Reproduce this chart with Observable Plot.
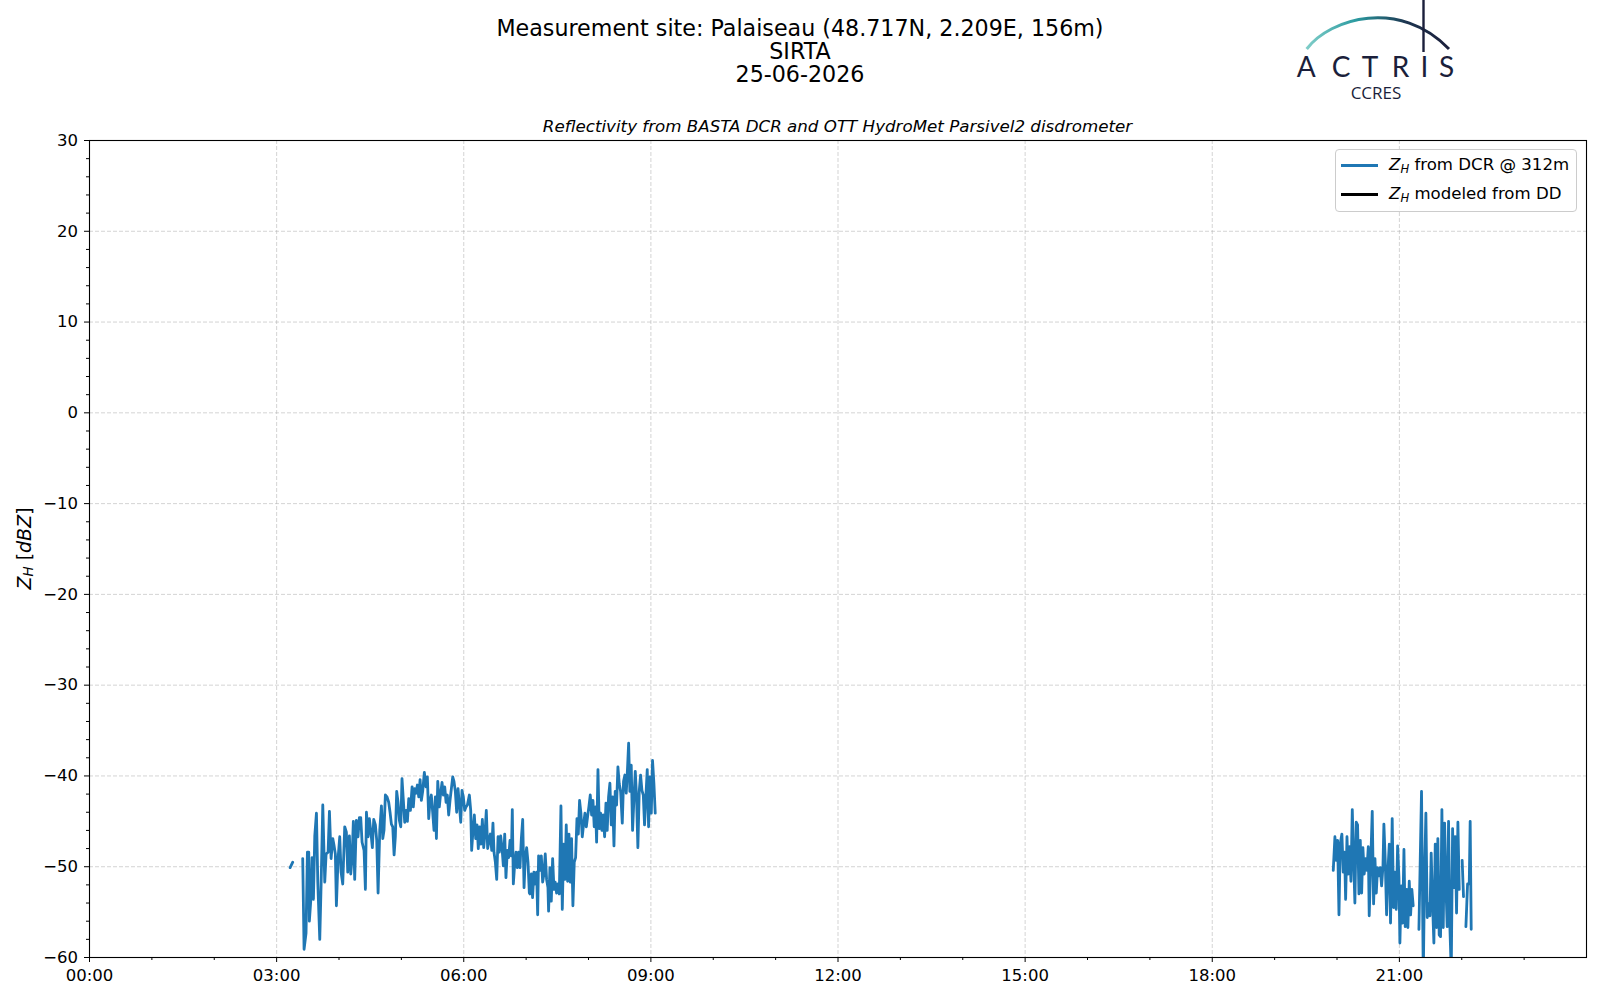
<!DOCTYPE html>
<html>
<head>
<meta charset="utf-8">
<script src="https://cdn.jsdelivr.net/npm/d3@7"></script>
<script src="https://cdn.jsdelivr.net/npm/@observablehq/plot@0.6"></script>
<style>
  body { margin: 0; background: #fff; font-family: "DejaVu Sans", sans-serif; }
  #fig { position: relative; width: 1600px; height: 1000px; overflow: hidden; background: #fff; }
  #header { position: relative; width: 1600px; height: 132px; }
  #title { position: absolute; left: 0; top: 17px; width: 1600px; text-align: center; font-size: 22.2px; line-height: 23px; color: #000; }
  #subtitle { position: absolute; left: 89px; width: 1497px; top: 116px; text-align: center; font-size: 16.7px; line-height: 20px; font-style: italic; color: #000; }
  #logo { position: absolute; left: 1280px; top: 0; }
  #legend { position: absolute; left: 1335px; top: 149px; width: 242px; height: 63px; border: 1px solid #cccccc; border-radius: 4px; background: rgba(255,255,255,0.85); box-sizing: border-box; }
  .lrow { position: absolute; left: 0; height: 20px; font-size: 16.6px; line-height: 20px; color: #000; white-space: nowrap; }
  .lline { position: absolute; left: 5px; width: 37px; height: 2.8px; }
  .ltext { position: absolute; left: 53px; top: 0; }
  sub { font-size: 0.7em; vertical-align: -0.25em; line-height: 0; }
</style>
</head>
<body>
<div id="fig">
  <div id="header">
    <div id="title">Measurement site: Palaiseau (48.717N, 2.209E, 156m)<br>SIRTA<br>25-06-2026</div>
    <svg id="logo" width="200" height="110">
      <defs>
        <linearGradient id="arcg" x1="0" x2="1" y1="0" y2="0">
          <stop offset="0" stop-color="#7fcdc8"/>
          <stop offset="0.35" stop-color="#2b9aa0"/>
          <stop offset="0.7" stop-color="#1d3550"/>
          <stop offset="1" stop-color="#1b1f3b"/>
        </linearGradient>
      </defs>
      <path d="M26.7,49 C50,18 120,-2 169,49" fill="none" stroke="url(#arcg)" stroke-width="3"/>
      <line x1="143.5" y1="0" x2="143.5" y2="52" stroke="#1b1f3b" stroke-width="2.4"/>
      <text x="16.7 51.7 81.7 111.7 140.5 159" y="77.3" font-family="Lato, 'Open Sans', sans-serif" font-size="28" fill="#1b1f3b">ACTRIS</text>
      <text x="96" y="98.8" text-anchor="middle" font-family="'Open Sans', Lato, sans-serif" font-size="17" fill="#1b1f3b">CCRES</text>
    </svg>
    <div id="subtitle">Reflectivity from BASTA DCR and OTT HydroMet Parsivel2 disdrometer</div>
  </div>
  <div id="chart"></div>
  <div id="legend">
    <div class="lrow" style="top:5px"><div class="lline" style="top:9px;background:#1f77b4"></div><div class="ltext"><i>Z</i><sub><i>H</i></sub> from DCR @ 312m</div></div>
    <div class="lrow" style="top:34px"><div class="lline" style="top:9px;background:#000"></div><div class="ltext"><i>Z</i><sub><i>H</i></sub> modeled from DD</div></div>
  </div>
</div>
<script>
// ---- data (time in minutes since 00:00 UTC, reflectivity in dBZ; null = gap) ----
const timeMin = [
  193.0, 195.5, 200.0,
  205.1, 206.4, 208.3, 209.6, 210.9, 211.5, 212.8, 214.1, 215.4, 216.7, 218.3, 219.6, 221.5, 222.8, 224.4, 226.3,
  227.6, 229.5, 230.8, 232.4, 234.0, 235.3, 236.5, 237.5, 239.1, 240.7, 242.0, 243.6, 245.5, 247.1, 248.4, 250.0,
  251.3, 252.6, 253.8, 255.1, 256.7, 258.3, 259.6, 260.9, 262.2, 264.1, 265.4, 266.4, 268.0, 269.2, 270.5, 272.1,
  273.4, 275.0, 276.3, 277.6, 279.2, 280.8, 282.1, 283.3, 284.6, 286.2, 287.8, 289.1, 290.4, 291.7, 293.0, 294.2,
  295.5, 296.8, 298.1, 299.4, 300.6, 301.9, 303.2, 304.5, 305.8, 307.1, 308.7,
  310.3, 311.5, 312.8, 314.1, 315.4, 316.7, 318.0, 319.2, 320.5, 322.1, 323.7, 325.0, 326.3, 327.6, 328.8, 330.1,
  331.4, 332.7, 333.7, 335.0, 336.5, 337.8, 339.1, 340.4, 341.7, 343.0, 344.2, 345.5, 346.8, 348.1, 349.4, 350.6,
  351.9, 353.2, 354.5, 355.8, 357.1, 358.3, 359.6, 360.9, 362.2, 363.5, 365.4, 366.7, 367.6, 368.9, 370.2, 371.5,
  372.8, 374.0, 375.3, 376.6, 377.9, 379.2, 380.5, 381.7, 383.0, 384.3, 385.6, 386.9, 388.1, 389.1, 390.4, 391.7,
  393.0, 394.2, 395.5, 396.8, 398.1, 399.4, 400.6, 401.9, 403.2, 404.5, 405.8, 406.7, 407.7, 409.0, 410.3, 411.5,
  412.8, 414.1, 415.4, 416.7, 418.0, 419.2, 420.5, 421.8, 423.1,
  423.7, 425.0, 426.2, 427.5, 428.8, 430.1, 431.1, 432.0, 433.3, 434.6, 435.9, 437.1, 438.4, 439.7, 441.0, 441.6,
  442.9, 444.2, 445.5, 446.8, 448.0, 449.3, 450.6, 451.9, 453.5, 454.8, 456.1, 457.3, 458.6, 459.9, 461.2, 462.5,
  463.7, 465.0, 466.3, 467.6, 468.9, 470.2, 471.4, 472.7, 474.0, 475.3, 476.6, 477.9, 479.1, 480.4, 481.7, 483.0,
  484.3, 485.5, 486.8, 487.8, 489.1, 490.4, 491.6, 492.9, 494.2, 495.5, 496.8, 498.0, 499.3, 500.6, 501.9, 503.2,
  504.5, 505.7, 507.0, 508.3, 509.6, 510.9, 512.5, 513.7, 515.0, 516.3, 517.6, 518.6, 519.8, 521.1, 522.4, 523.7,
  525.0, 526.2, 527.5, 528.8, 530.1, 531.4, 532.7, 533.9, 535.2, 536.5, 537.8, 539.1, 540.4, 541.6, 542.9, 544.2,
  600.0,
  1196.4, 1198.0, 1199.3, 1200.6, 1201.9, 1203.1, 1204.7, 1206.0, 1207.3, 1208.3, 1209.6, 1210.8, 1212.1, 1213.4,
  1214.7, 1216.0, 1217.2, 1218.5, 1219.8, 1221.1, 1222.4, 1223.7, 1224.9, 1226.2, 1227.5, 1228.8, 1230.1, 1231.0,
  1232.3, 1233.9, 1235.2, 1236.5, 1237.8, 1239.0, 1240.3, 1241.6, 1242.9, 1244.2, 1245.1, 1246.4, 1247.7, 1249.0,
  1250.3, 1251.5, 1253.1, 1254.4, 1255.7, 1257.0, 1258.3, 1259.6, 1260.5, 1261.8, 1263.1, 1264.4, 1265.6, 1266.9,
  1268.2, 1269.5, 1270.8, 1272.0, 1273.3, 1276.0,
  1278.8, 1281.3, 1283.0, 1284.2, 1285.5, 1286.8, 1288.1, 1289.4, 1290.6, 1291.9, 1293.2, 1294.5, 1295.8, 1297.0,
  1298.3, 1299.6, 1300.9, 1302.2, 1303.5, 1304.7, 1306.0, 1307.3, 1308.6, 1309.9, 1311.2, 1312.4, 1313.7, 1315.0,
  1316.3, 1317.6, 1319.0,
  1320.4, 1321.7, 1322.8,
  1324.0, 1325.6, 1327.2, 1328.1, 1329.1
];
const zhDcr = [
  -50.1, -49.5, null,
  -49.1, -59.1, -57.3, -48.4, -48.4, -56.0, -53.8, -49.0, -53.6, -46.6, -44.1, -51.7, -58.0, -51.9, -43.2, -51.7,
  -48.6, -48.4, -43.9, -49.1, -46.9, -47.7, -48.6, -54.3, -49.1, -46.7, -50.6, -51.9, -45.6, -46.2, -50.6, -46.6,
  -50.8, -49.0, -45.0, -51.4, -44.9, -46.7, -44.6, -44.6, -47.3, -48.2, -52.5, -44.0, -46.7, -44.7, -46.0, -47.9,
  -44.8, -45.4, -47.1, -52.9, -46.0, -43.3, -46.9, -46.0, -42.1, -42.3, -42.9, -44.0, -45.3, -45.6, -48.7, -46.7,
  -41.7, -42.9, -44.9, -45.6, -40.3, -42.7, -45.1, -43.8, -45.0, -42.5, -43.8,
  -41.2, -43.4, -41.4, -41.9, -41.0, -42.3, -40.4, -42.7, -41.7, -39.6, -41.2, -40.1, -44.7, -42.7, -42.1, -44.0,
  -46.0, -42.3, -46.9, -40.6, -43.4, -41.9, -40.7, -42.1, -41.2, -42.9, -42.1, -44.3, -42.7, -41.4, -40.1, -40.6,
  -41.7, -44.0, -41.4, -43.2, -45.1, -41.6, -42.3, -43.8, -43.4, -43.2, -42.1, -43.8, -48.2, -46.0, -44.3, -46.9,
  -45.4, -48.0, -45.6, -47.5, -44.8, -47.9, -46.2, -43.8, -48.0, -47.1, -46.4, -48.2, -45.2, -48.4, -49.5, -51.4,
  -46.7, -48.4, -46.6, -47.9, -49.9, -46.4, -51.2, -48.2, -49.0, -47.1, -48.8, -43.7, -51.9, -49.7, -48.4, -50.1,
  -48.4, -50.1, -46.9, -44.8, -52.3, -49.0, -47.9, -49.5, -52.9,
  -53.0, -50.8, -53.4, -50.6, -51.9, -50.6, -55.3, -48.8, -50.4, -48.8, -51.7, -50.8, -48.6, -51.4, -52.3, -54.9,
  -50.1, -53.8, -49.1, -52.5, -51.7, -52.9, -51.9, -53.0, -43.3, -54.7, -47.5, -51.4, -45.4, -51.6, -46.4, -51.7,
  -46.9, -54.3, -49.5, -49.0, -44.7, -46.4, -42.7, -44.1, -46.7, -45.3, -44.1, -45.6, -44.5, -43.4, -42.1, -44.3,
  -42.7, -45.6, -43.4, -47.3, -39.3, -45.8, -44.1, -46.0, -44.3, -46.7, -43.0, -46.0, -42.3, -40.8, -45.4, -42.3,
  -47.7, -41.7, -43.2, -39.0, -40.9, -41.7, -45.2, -40.6, -39.9, -41.9, -39.0, -36.4, -41.7, -38.8, -46.0, -42.5,
  -39.5, -42.3, -47.9, -41.7, -39.9, -41.6, -42.1, -45.4, -42.3, -39.3, -45.6, -40.1, -44.1, -38.3, -40.8, -44.1,
  null,
  -50.4, -46.7, -49.3, -47.1, -55.3, -47.5, -46.4, -50.6, -48.4, -53.6, -46.7, -50.8, -47.8, -51.6,
  -43.7, -49.3, -54.0, -45.1, -45.4, -53.0, -47.1, -52.9, -47.9, -50.8, -49.1, -50.4, -47.8, -55.4,
  -50.1, -43.9, -54.1, -49.1, -52.9, -50.1, -51.0, -50.1, -52.1, -50.0, -45.3, -49.3, -55.3, -50.4,
  -47.5, -56.2, -44.7, -54.5, -50.6, -54.7, -47.7, -51.2, -58.4, -52.1, -56.2, -48.1, -56.6, -52.5,
  -56.7, -51.6, -55.3, -52.5, -54.3, null,
  -56.9, -41.7, -62.0, -51.1, -44.1, -55.6, -54.1, -55.4, -48.5, -54.0, -58.4, -47.5, -56.7, -46.9,
  -57.5, -57.7, -43.7, -56.7, -45.2, -51.9, -56.6, -45.0, -56.7, -61.5, -45.8, -52.3, -46.7, -55.1,
  -45.1, -52.5, null,
  -49.3, -53.3, null,
  -56.6, -51.9, -51.9, -45.0, -56.9
];
const xMajorTicks = [0, 180, 360, 540, 720, 900, 1080, 1260];
const xTickLabels = ["00:00", "03:00", "06:00", "09:00", "12:00", "15:00", "18:00", "21:00"];
const xMinorTicks = [60, 120, 240, 300, 420, 480, 600, 660, 780, 840, 960, 1020, 1140, 1200, 1320, 1380];
const yMajorTicks = [-60, -50, -40, -30, -20, -10, 0, 10, 20, 30];
const yMinorTicks = [-58, -56, -54, -52, -48, -46, -44, -42, -38, -36, -34, -32, -28, -26, -24, -22, -18, -16, -14, -12,
  -8, -6, -4, -2, 2, 4, 6, 8, 12, 14, 16, 18, 22, 24, 26, 28];

const rows = timeMin.map((t, i) => ({t, v: zhDcr[i]}));
const xLabel = new Map(xMajorTicks.map((t, i) => [t, xTickLabels[i]]));
const fmtY = d => (d < 0 ? "\u2212" + Math.abs(d) : String(d));

const W = 1600, H = 868;
const mTop = 8, mBottom = 43, mLeft = 89, mRight = 14;

const chart = Plot.plot({
  width: W,
  height: H,
  marginTop: mTop,
  marginBottom: mBottom,
  marginLeft: mLeft,
  marginRight: mRight,
  style: {fontFamily: "'DejaVu Sans', sans-serif", fontSize: "16.5px", color: "#000", background: "#fff", overflow: "visible"},
  x: {type: "linear", domain: [0, 1440]},
  y: {type: "linear", domain: [-60, 30]},
  marks: [
    Plot.gridX(xMajorTicks.slice(1), {stroke: "#b0b0b0", strokeOpacity: 0.55, strokeWidth: 1, strokeDasharray: "4,2"}),
    Plot.gridY(yMajorTicks.slice(1, -1), {stroke: "#b0b0b0", strokeOpacity: 0.55, strokeWidth: 1, strokeDasharray: "4,2"}),
    Plot.line(rows, {x: "t", y: "v", stroke: "#1f77b4", strokeWidth: 2.8, clip: true, strokeLinejoin: "round"}),
    Plot.frame({stroke: "#000", strokeWidth: 1.1}),
    Plot.axisX(xMajorTicks, {tickSize: 5, tickPadding: 6.5, tickFormat: d => xLabel.get(d), fontSize: 16.5, label: null}),
    Plot.axisX(xMinorTicks, {tickSize: 3, tickFormat: () => "", label: null}),
    Plot.axisY(yMajorTicks, {tickSize: 5, tickPadding: 6.5, tickFormat: fmtY, fontSize: 16.5, label: null}),
    Plot.axisY(yMinorTicks, {tickSize: 3, tickFormat: () => "", label: null})
  ]
});
document.getElementById("chart").appendChild(chart);

// y-axis title
const svg = d3.select(chart);
const cy = mTop + (H - mTop - mBottom) / 2;
const lab = svg.append("text")
  .attr("transform", `translate(25,${cy}) rotate(-90)`)
  .attr("text-anchor", "middle")
  .attr("dominant-baseline", "middle")
  .style("font-size", "19px")
  .style("font-family", "'DejaVu Sans', sans-serif")
  .attr("fill", "#000");
lab.append("tspan").style("font-style", "italic").text("Z");
lab.append("tspan").style("font-style", "italic").style("font-size", "13.5px").attr("dy", 4).text("H");
lab.append("tspan").attr("dy", -4).text(" [");
lab.append("tspan").style("font-style", "italic").text("dBZ");
lab.append("tspan").text("]");
</script>
</body>
</html>
